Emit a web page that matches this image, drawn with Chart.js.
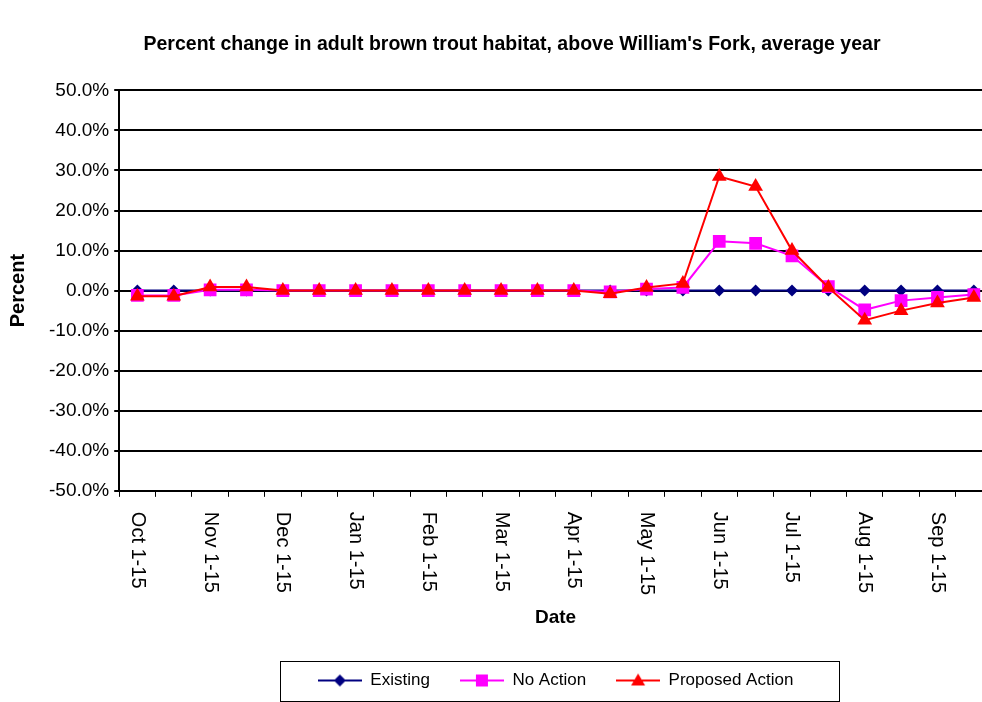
<!DOCTYPE html>
<html>
<head>
<meta charset="utf-8">
<script src="https://cdn.jsdelivr.net/npm/chart.js@4.4.1/dist/chart.umd.min.js"></script>
<style>
  html, body { margin: 0; padding: 0; background: #fff; overflow: hidden; }
  #wrap { width: 982px; height: 702px; overflow: hidden; }
</style>
</head>
<body>
<div id="wrap"><canvas id="chart" width="1024" height="702"></canvas></div>
<script>
// half-month periods, Oct through Sep
const periods = [
  'Oct 1-15', 'Oct 16-31', 'Nov 1-15', 'Nov 16-30', 'Dec 1-15', 'Dec 16-31',
  'Jan 1-15', 'Jan 16-31', 'Feb 1-15', 'Feb 16-28', 'Mar 1-15', 'Mar 16-31',
  'Apr 1-15', 'Apr 16-30', 'May 1-15', 'May 16-31', 'Jun 1-15', 'Jun 16-30',
  'Jul 1-15', 'Jul 16-31', 'Aug 1-15', 'Aug 16-31', 'Sep 1-15', 'Sep 16-30'
];

// percent change vs existing habitat
const existing = [0, 0, 0, 0, 0, 0, 0, 0, 0, 0, 0, 0, 0, 0, 0, 0, 0, 0, 0, 0, 0, 0, 0, 0];
const noAction = [-1.2, -1.2, 0.2, 0.2, 0, 0, 0, 0, 0, 0, 0, 0, 0, -0.3, 0.4, 0.8, 12.3, 11.8, 8.7, 1.0, -4.8, -2.5, -1.7, -1.0];
const proposedAction = [-1.4, -1.4, 0.9, 0.9, 0, 0, 0, 0, 0, 0, 0, 0, 0, -0.8, 0.8, 1.8, 28.5, 26.0, 10.0, 0.8, -7.4, -5.0, -3.1, -1.7];

const FONT = '"Liberation Sans", Arial, Helvetica, sans-serif';
Chart.defaults.font.family = FONT;
Chart.defaults.color = '#000';

// small line+marker swatch for the legend
function swatch(color, shape) {
  const c = document.createElement('canvas');
  c.width = 44; c.height = 20;
  const g = c.getContext('2d');
  g.strokeStyle = color; g.fillStyle = color; g.lineWidth = 2;
  g.beginPath(); g.moveTo(0, 10); g.lineTo(44, 10); g.stroke();
  g.beginPath();
  if (shape === 'diamond') {
    g.moveTo(22, 4); g.lineTo(28, 10); g.lineTo(22, 16); g.lineTo(16, 10);
  } else if (shape === 'square') {
    g.rect(16, 4, 12, 12);
  } else {
    g.moveTo(22, 3); g.lineTo(29, 15); g.lineTo(15, 15);
  }
  g.closePath(); g.fill();
  return c;
}

const series = [
  { label: 'Existing', data: existing, color: '#000080', style: 'rectRot', radius: 6, shape: 'diamond', order: 3 },
  { label: 'No Action', data: noAction, color: '#FF00FF', style: 'rect', radius: 9, shape: 'square', order: 2 },
  { label: 'Proposed Action', data: proposedAction, color: '#FF0000', style: 'triangle', radius: 8.5, shape: 'triangle', order: 1 }
];

// rotated (top-to-bottom) category labels, every other period
const xLabels = {
  id: 'xLabels',
  afterDraw(chart) {
    const sx = chart.scales.x, ctx = chart.ctx;
    ctx.save();
    ctx.font = '20px ' + FONT;
    ctx.fillStyle = '#000';
    ctx.textAlign = 'left';
    ctx.textBaseline = 'middle';
    sx.ticks.forEach((t, i) => {
      if (!t.label) return;
      ctx.save();
      ctx.translate(sx.getPixelForTick(i), sx.top + 21);
      ctx.rotate(Math.PI / 2);
      ctx.fillText(t.label, 0, 0);
      ctx.restore();
    });
    ctx.restore();
  }
};

// frame around the legend
const legendFrame = {
  id: 'legendFrame',
  afterDraw(chart) {
    const hb = chart.legend && chart.legend.legendHitBoxes;
    if (!hb || !hb.length) return;
    const first = hb[0], last = hb[hb.length - 1];
    const cy = first.top + first.height / 2;
    const x0 = Math.round(first.left - 38), x1 = Math.round(last.left + last.width + 46);
    const ctx = chart.ctx;
    ctx.save();
    ctx.strokeStyle = '#000';
    ctx.lineWidth = 1;
    ctx.strokeRect(x0 + 0.5, Math.round(cy - 20) + 0.5, x1 - x0, 40);
    ctx.restore();
  }
};

new Chart(document.getElementById('chart'), {
  type: 'line',
  data: {
    labels: periods,
    datasets: series.map(s => ({
      label: s.label,
      data: s.data,
      order: s.order,
      yAxisID: 'y',
      borderColor: s.color,
      backgroundColor: s.color,
      borderWidth: 2,
      pointStyle: s.style,
      pointRadius: s.radius,
      pointBorderWidth: 0,
      pointBackgroundColor: s.color,
      tension: 0,
      fill: false
    }))
  },
  options: {
    responsive: false,
    animation: false,
    layout: { padding: { left: 0, right: 0, top: 0, bottom: 3 } },
    plugins: {
      title: {
        display: true,
        text: "Percent change in adult brown trout habitat, above William's Fork, average year",
        font: { size: 19.5, weight: 'bold' },
        color: '#000',
        padding: { top: 33, bottom: 34 }
      },
      legend: {
        position: 'bottom',
        fullSize: false,
        labels: {
          font: { size: 17 },
          color: '#000',
          padding: 30,
          usePointStyle: true,
          pointStyleWidth: 44,
          generateLabels: () => series.map((s, i) => ({
            text: s.label,
            pointStyle: swatch(s.color, s.shape),
            fillStyle: s.color,
            strokeStyle: s.color,
            lineWidth: 0,
            hidden: false,
            datasetIndex: i
          }))
        },
        onClick: null
      },
      tooltip: { enabled: false }
    },
    scales: {
      x: {
        offset: true,
        grid: { offset: true, drawOnChartArea: false, tickLength: 6, color: '#000', lineWidth: 1 },
        border: { color: '#000', width: 2 },
        ticks: {
          autoSkip: false,
          minRotation: 90,
          maxRotation: 90,
          padding: 0,
          font: { size: 20 },
          color: 'rgba(0,0,0,0)',
          callback: (v, i) => (i % 2 === 0 ? periods[i] : '')
        },
        title: {
          display: true,
          text: 'Date',
          font: { size: 19, weight: 'bold' },
          color: '#000',
          padding: { top: 26, bottom: 13 }
        }
      },
      y: {
        min: -50,
        max: 50,
        grid: { color: '#000', lineWidth: 2, tickLength: 5 },
        border: { color: '#000', width: 2 },
        ticks: {
          stepSize: 10,
          padding: 5,
          font: { size: 19 },
          color: '#000',
          callback: v => v.toFixed(1) + '%'
        },
        title: {
          display: true,
          text: 'Percent',
          font: { size: 20, weight: 'bold' },
          color: '#000',
          padding: { top: 6, bottom: 14 }
        }
      },
      // empty margin on the right, the plot runs past the picture edge
      yRight: {
        type: 'linear',
        position: 'right',
        display: true,
        grid: { display: false, drawTicks: false },
        border: { display: false },
        ticks: { display: false },
        afterFit: s => { s.width = 32; }
      }
    }
  },
  plugins: [xLabels, legendFrame]
});
</script>
</body>
</html>
